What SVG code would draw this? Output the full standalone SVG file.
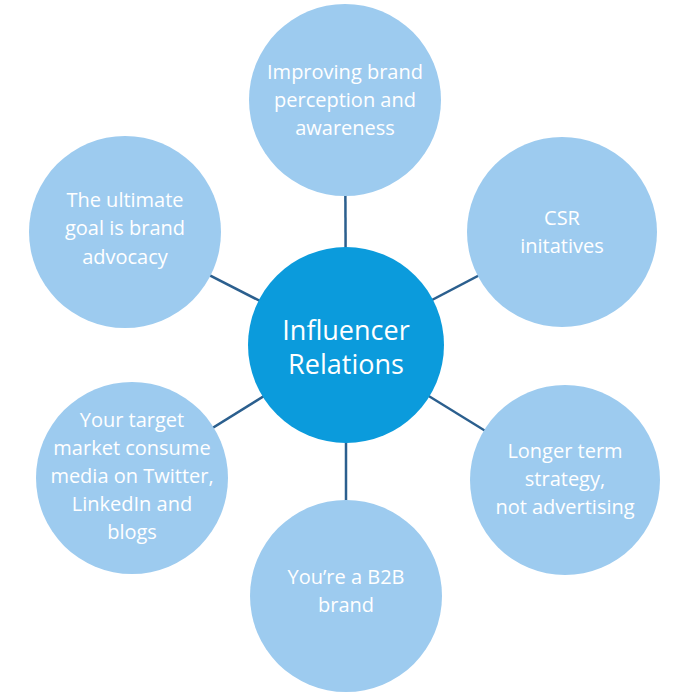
<svg xmlns="http://www.w3.org/2000/svg" width="700" height="693" viewBox="0 0 700 693">
<style>
.o{fill:#9dcbef}
.c{fill:#0b9bdc}
.l{stroke:#2b5f8e;stroke-width:2.5}
text{font-family:"Open Sans","Liberation Sans",sans-serif;fill:#fff;font-size:20px;text-anchor:middle}
.big{font-size:27px}
</style>
<rect width="700" height="693" fill="#fff"/>
<g id="connectors">
<line class="l" x1="346" y1="345" x2="345" y2="100"/>
<line class="l" x1="346" y1="345" x2="562" y2="232"/>
<line class="l" x1="346" y1="345" x2="565" y2="480"/>
<line class="l" x1="346" y1="345" x2="346" y2="596"/>
<line class="l" x1="346" y1="345" x2="132" y2="478"/>
<line class="l" x1="346" y1="345" x2="125" y2="232"/>
</g>
<g id="n-top"><circle class="o" cx="345" cy="100" r="96"/><text x="345" y="79">Improving brand</text><text x="345" y="107">perception and</text><text x="345" y="135">awareness</text></g>
<g id="n-ur"><circle class="o" cx="562" cy="232" r="95"/><text x="562" y="225">CSR</text><text x="562" y="253">initatives</text></g>
<g id="n-lr"><circle class="o" cx="565" cy="480" r="95"/><text x="565" y="458">Longer term</text><text x="565" y="486">strategy,</text><text x="565" y="514">not advertising</text></g>
<g id="n-bot"><circle class="o" cx="346" cy="596" r="96"/><text x="346" y="584">You’re a B2B</text><text x="346" y="612">brand</text></g>
<g id="n-ll"><circle class="o" cx="132" cy="478" r="96"/><text x="132" y="427">Your target</text><text x="132" y="455">market consume</text><text x="132" y="483">media on Twitter,</text><text x="132" y="511">LinkedIn and</text><text x="132" y="539">blogs</text></g>
<g id="n-ul"><circle class="o" cx="125" cy="232" r="96"/><text x="125" y="207">The ultimate</text><text x="125" y="235">goal is brand</text><text x="125" y="264">advocacy</text></g>
<g id="n-center"><circle class="c" cx="346" cy="345" r="98"/><text class="big" x="346" y="340">Influencer</text><text class="big" x="346" y="374">Relations</text></g>
</svg>
